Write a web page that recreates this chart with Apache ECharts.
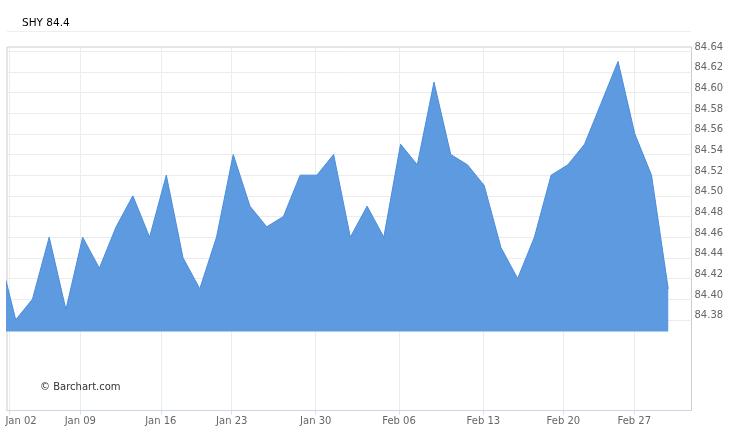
<!DOCTYPE html>
<html><head><meta charset="utf-8">
<script src="https://cdn.jsdelivr.net/npm/echarts@6/dist/echarts.min.js"></script>
<style>html,body{margin:0;padding:0;background:#fff}#c{width:750px;height:433px}</style>
</head><body><div id="c"></div>
<script>
const symbol = 'SHY';
const lastPrice = '84.4';
const closes = [84.445, 84.38, 84.40, 84.46, 84.39, 84.46, 84.43, 84.47, 84.50, 84.46, 84.52, 84.44, 84.41, 84.46, 84.54, 84.49, 84.47, 84.48, 84.52, 84.52, 84.54, 84.46, 84.49, 84.46, 84.55, 84.53, 84.61, 84.54, 84.53, 84.51, 84.45, 84.42, 84.46, 84.52, 84.53, 84.55, 84.59, 84.63, 84.56, 84.52, 84.41];
const tickLabels = ['Jan 02','Jan 09','Jan 16','Jan 23','Jan 30','Feb 06','Feb 13','Feb 20','Feb 27'];
const tickPositions = [0.6, 4.86, 9.67, 13.91, 18.93, 23.91, 28.95, 33.73, 37.97];
const yTicks = [84.38, 84.40, 84.42, 84.44, 84.46, 84.48, 84.50, 84.52, 84.54, 84.56, 84.58, 84.60, 84.62, 84.64];
const areaBase = 84.3687;

const FONT = 'DejaVu Sans';
const chart = echarts.init(document.getElementById('c'), null, {renderer: 'canvas'});
function labelFor(v) {
  let best = 0, d = Infinity;
  tickPositions.forEach((p, i) => { const dd = Math.abs(p - v); if (dd < d) { d = dd; best = i; } });
  return best === 0 ? '{first|' + tickLabels[best] + '}' : tickLabels[best];
}
chart.setOption({
  animation: false,
  backgroundColor: '#fff',
  title: {
    text: symbol + ' ' + lastPrice,
    left: 22, top: 17.5, padding: 0,
    textStyle: {fontFamily: FONT, fontSize: 10.5, fontWeight: 'normal', color: '#000'}
  },
  graphic: [
    {type: 'line', shape: {x1: 7, y1: 31.5, x2: 691, y2: 31.5}, style: {stroke: '#eeeeee', lineWidth: 1}, silent: true},
    {type: 'text', left: 40, top: 382.5, style: {text: '\u00a9 Barchart.com', font: '10px "DejaVu Sans"', fill: '#333'}, z: 10}
  ],
  grid: {left: 7, top: 47, right: 58.5, bottom: 22.5, show: true, borderColor: '#cccccc', borderWidth: 1, containLabel: false},
  xAxis: {
    type: 'value', min: 0.478, max: 41.39,
    axisLine: {show: true, lineStyle: {color: '#c8d6e6', width: 1}},
    axisTick: {show: true, customValues: tickPositions, length: 4, lineStyle: {color: '#d8e0ea'}},
    axisLabel: {
      customValues: tickPositions, formatter: labelFor, margin: 6,
      fontFamily: FONT, fontSize: 10, color: '#666',
      rich: {first: {fontFamily: FONT, fontSize: 10, color: '#666', padding: [0, 0, 0, 24]}}
    },
    splitLine: {show: true, lineStyle: {color: '#ececec', width: 1}}
  },
  yAxis: {
    type: 'value', position: 'right', min: 84.2923, max: 84.644,
    axisLine: {show: false},
    axisTick: {show: false, customValues: yTicks},
    axisLabel: {
      customValues: yTicks, formatter: v => v.toFixed(2), margin: 3,
      verticalAlign: 'bottom', padding: [0, 0, -1, 0], fontFamily: FONT, fontSize: 10, color: '#666'
    },
    splitLine: {show: true, lineStyle: {color: '#ececec', width: 1}}
  },
  series: [{
    type: 'line',
    data: closes.map((v, i) => [i, v]),
    showSymbol: false,
    clip: true,
    lineStyle: {color: '#4a8ddb', width: 1},
    areaStyle: {color: '#5e9ae0', opacity: 1, origin: areaBase},
    z: 2
  }]
});
</script>
</body></html>
